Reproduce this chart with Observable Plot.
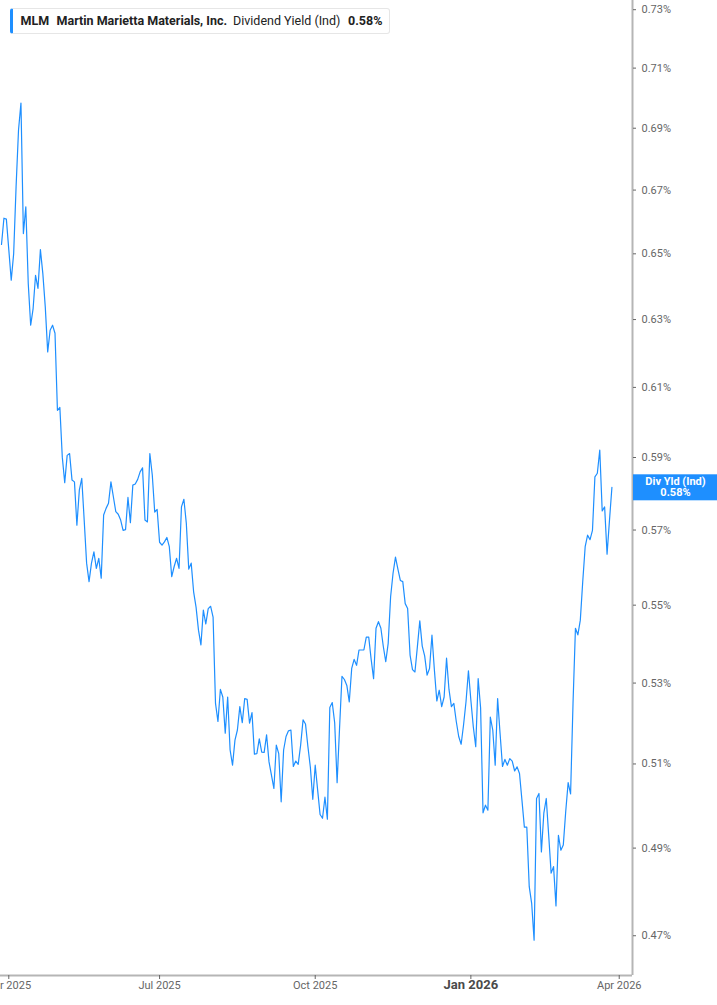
<!DOCTYPE html>
<html>
<head>
<meta charset="utf-8">
<script src="https://cdn.jsdelivr.net/npm/d3@7"></script>
<script src="https://cdn.jsdelivr.net/npm/@observablehq/plot@0.6"></script>
<style>
  body { margin: 0; background: #fff; font-family: Roboto, "Noto Sans", sans-serif; }
  #wrap { position: relative; width: 717px; height: 1005px; overflow: hidden; }
  #legend { position: absolute; left: 10px; top: 8px; width: 380px; height: 26px; box-sizing: border-box;
            border: 1px solid #e6e6e6; border-left: 3px solid #1e8fff; border-radius: 3px; background: #fff; }
  #legend span { position: absolute; top: 4px; font-size: 12.5px; line-height: 16px; color: #222; white-space: nowrap; }
  #legend .b { font-weight: 700; }
</style>
</head>
<body>
<div id="wrap">
  <div id="chart"></div>
  <div id="legend"></div>
</div>
<script>
// ---- data ----
const ticker = "MLM";
const companyName = "Martin Marietta Materials, Inc.";
const metricName = "Dividend Yield (Ind)";
const boxLabel = "Div Yld (Ind)";

const startDate = "2025-03-27";
const calendarEnd = "2026-04-10";
const marketHolidays = ["2025-04-18","2025-05-26","2025-06-19","2025-07-04","2025-09-01",
  "2025-11-27","2025-12-25","2026-01-01","2026-01-19","2026-02-16","2026-04-03"];

// dividend yield in %, one value per trading day from 2025-03-27 to 2026-03-27
const yieldPct = [
  0.6529,0.6611,0.6608,0.6513,0.6419,0.6500,0.6711,0.6894,0.6983,0.6563,
  0.6647,0.6409,0.6283,0.6333,0.6434,0.6394,0.6513,0.6439,0.6338,0.6204,
  0.6268,0.6283,0.6259,0.6034,0.6042,0.5901,0.5830,0.5906,0.5911,0.5837,
  0.5832,0.5713,0.5809,0.5842,0.5727,0.5611,0.5562,0.5611,0.5641,0.5597,
  0.5624,0.5571,0.5741,0.5759,0.5773,0.5832,0.5791,0.5750,0.5743,0.5727,
  0.5699,0.5701,0.5789,0.5720,0.5823,0.5826,0.5839,0.5860,0.5871,0.5727,
  0.5722,0.5911,0.5851,0.5749,0.5756,0.5667,0.5659,0.5668,0.5680,0.5655,
  0.5575,0.5602,0.5624,0.5597,0.5763,0.5784,0.5718,0.5595,0.5611,0.5535,
  0.5495,0.5435,0.5397,0.5487,0.5451,0.5491,0.5497,0.5469,0.5249,0.5204,
  0.5284,0.5265,0.5175,0.5265,0.5134,0.5097,0.5158,0.5183,0.5241,0.5201,
  0.5261,0.5259,0.5200,0.5226,0.5124,0.5125,0.5161,0.5129,0.5128,0.5171,
  0.5105,0.5073,0.5041,0.5146,0.5125,0.5009,0.5134,0.5167,0.5181,0.5183,
  0.5094,0.5107,0.5099,0.5146,0.5208,0.5198,0.5142,0.5092,0.5015,0.5097,
  0.5037,0.4979,0.4970,0.5020,0.4968,0.5239,0.5251,0.5201,0.5055,0.5187,
  0.5317,0.5309,0.5294,0.5253,0.5337,0.5360,0.5345,0.5384,0.5384,0.5384,
  0.5417,0.5417,0.5360,0.5311,0.5440,0.5457,0.5440,0.5393,0.5354,0.5401,
  0.5522,0.5584,0.5627,0.5595,0.5565,0.5562,0.5504,0.5491,0.5371,0.5334,
  0.5328,0.5392,0.5459,0.5394,0.5369,0.5320,0.5337,0.5422,0.5333,0.5255,
  0.5282,0.5241,0.5265,0.5363,0.5284,0.5241,0.5249,0.5204,0.5167,0.5148,
  0.5196,0.5253,0.5331,0.5257,0.5191,0.5142,0.5311,0.5238,0.4983,0.5001,
  0.4989,0.5215,0.5183,0.5097,0.5261,0.5175,0.5094,0.5111,0.5097,0.5113,
  0.5107,0.5083,0.5093,0.5077,0.5013,0.4949,0.4949,0.4811,0.4773,0.4690,
  0.5017,0.5029,0.4891,0.4982,0.5017,0.4930,0.4842,0.4857,0.4767,0.4930,
  0.4895,0.4907,0.4986,0.5055,0.5028,0.5249,0.5440,0.5423,0.5461,0.5562,
  0.5655,0.5686,0.5674,0.5699,0.5846,0.5856,0.5921,0.5752,0.5763,0.5635,
  0.5727,0.5817
];

const xTickDates  = ["2025-04-01","2025-07-01","2025-10-01","2026-01-02","2026-04-01"];
const xTickLabels = ["Apr 2025","Jul 2025","Oct 2025","Jan 2026","Apr 2026"];
const xTickBold   = [false,false,false,true,false];
const yTicks = [0.47,0.49,0.51,0.53,0.55,0.57,0.59,0.61,0.63,0.65,0.67,0.69,0.71,0.73];

// ---- build ----
const fmt = d3.utcFormat("%Y-%m-%d");
const hol = new Set(marketHolidays);
const tradingDays = d3.utcDay.range(new Date(startDate), new Date(calendarEnd))
  .filter(d => d.getUTCDay() % 6 !== 0 && !hol.has(fmt(d)));
const dayIndex = new Map(tradingDays.map((d, i) => [fmt(d), i]));
const data = yieldPct.map((v, i) => ({i, date: tradingDays[i], v}));
const xTicks = xTickDates.map((s, k) => ({i: dayIndex.get(s), label: xTickLabels[k], bold: xTickBold[k]}));
const last = data[data.length - 1];

const xDomain = [-0.41, 259.46];
const yDomain = [0.4612, 0.7332];
const blue = "#1e8fff";
const axisGray = "#b5b5b5";

const chart = Plot.plot({
  width: 717, height: 1005,
  marginLeft: 0, marginRight: 85, marginTop: 0, marginBottom: 30,
  style: {fontFamily: "Roboto, sans-serif", background: "#fff", color: "#666", overflow: "hidden"},
  x: {type: "linear", domain: xDomain, axis: null},
  y: {type: "log", domain: yDomain, axis: null},
  marks: [
    Plot.ruleY([yDomain[0]], {stroke: axisGray, strokeWidth: 2}),
    Plot.ruleX([xDomain[1]], {stroke: axisGray, strokeWidth: 2}),
    Plot.axisY({anchor: "right", ticks: yTicks, tickFormat: d => d.toFixed(2) + "%", tickSize: 3, tickPadding: 6, fontSize: 11, label: null}),
    Plot.axisX({ticks: xTicks.map(t => t.i), tickSize: 4, tickFormat: () => "", label: null}),
    Plot.text(xTicks.filter(t => !t.bold), {x: "i", text: "label", frameAnchor: "bottom", dy: 13, fontSize: 11, fill: "#666"}),
    Plot.text(xTicks.filter(t => t.bold), {x: "i", text: "label", frameAnchor: "bottom", dy: 13, fontSize: 13, fontWeight: "bold", fill: "#4a4a4a"}),
    Plot.line(data, {x: "i", y: "v", stroke: blue, strokeWidth: 1.2, clip: true})
  ]
});
document.getElementById("chart").appendChild(chart);

// last-value label box on the right axis
const svg = d3.select(chart);
const yl = chart.scale("y").apply(last.v);
const xr = chart.scale("x").apply(xDomain[1]);
const g = svg.append("g");
g.append("rect").attr("x", xr + 1).attr("y", yl - 12.5).attr("width", 717 - xr).attr("height", 26).attr("fill", blue);
g.append("text").attr("x", (xr + 717) / 2 + 1).attr("y", yl - 5.2).attr("text-anchor", "middle").attr("dominant-baseline", "central")
  .attr("fill", "#fff").attr("font-size", 11).attr("font-weight", "bold").attr("font-family", "Roboto, sans-serif").text(boxLabel);
g.append("text").attr("x", (xr + 717) / 2 + 1).attr("y", yl + 5.8).attr("text-anchor", "middle").attr("dominant-baseline", "central")
  .attr("fill", "#fff").attr("font-size", 11).attr("font-weight", "bold").attr("font-family", "Roboto, sans-serif").text(last.v.toFixed(2) + "%");

// legend
const legend = d3.select("#legend");
const parts = [
  {t: ticker, left: 7.5, b: true},
  {t: companyName, left: 43.5, b: true},
  {t: metricName, left: 220, b: false},
  {t: last.v.toFixed(2) + "%", left: 335, b: true}
];
parts.forEach(p => legend.append("span").attr("class", p.b ? "b" : null).style("left", p.left + "px").text(p.t));
</script>
</body>
</html>
